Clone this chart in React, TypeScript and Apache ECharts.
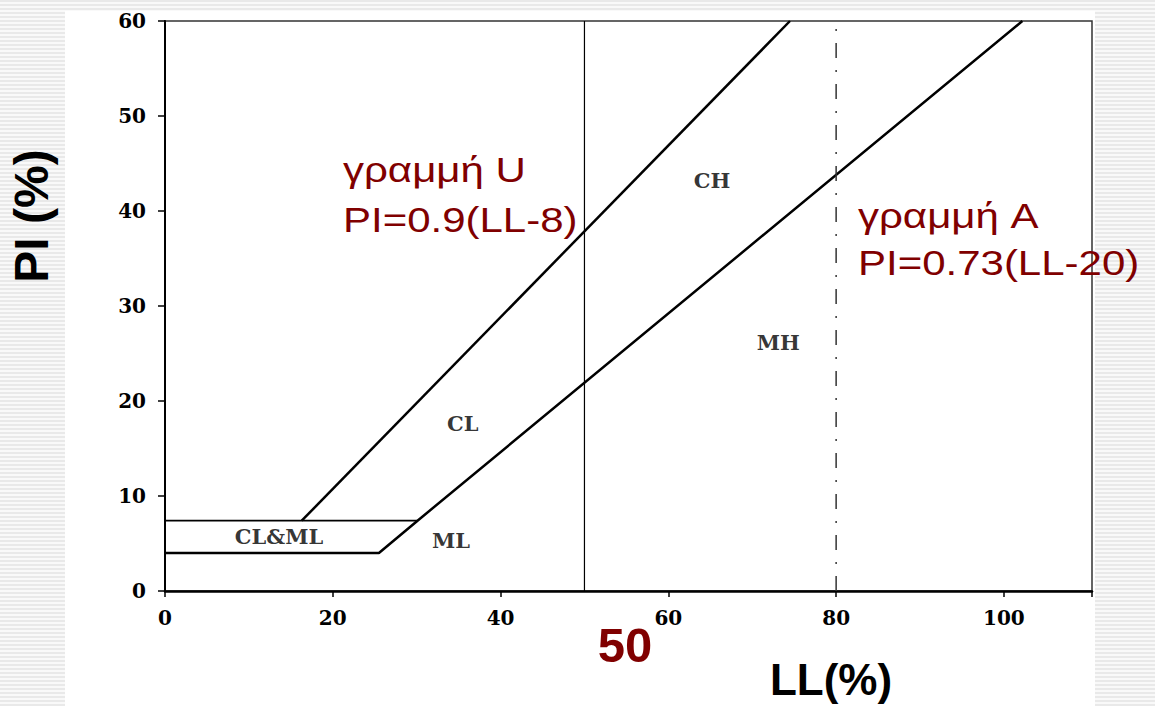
import React, { useEffect, useRef } from "react";
import * as echarts from "echarts";

// ---- data ----
const xTicks = [0, 20, 40, 60, 80, 100];
const yTicks = [0, 10, 20, 30, 40, 50, 60];
const uLine: number[][] = [[16.3, 7.4], [74.5, 60]];
const aLine: number[][] = [[0, 4], [25.5, 4], [30.1, 7.4], [102.2, 60]];
const clmlTop: number[][] = [[0, 7.4], [30.1, 7.4]];
const ll50: number[][] = [[50, 0], [50, 60]];
const ll80: number[][] = [[80, 0], [80, 60]];
const zoneNames = ["CH", "CL", "MH", "ML", "CL&ML"];
const zoneLL = [65.2, 35.5, 73.1, 34.1, 13.6];
const zonePI = [43.2, 17.6, 26.2, 5.3, 5.7];

const RED = "#800000";

export default function App() {
  const ref = useRef<HTMLDivElement>(null);

  useEffect(() => {
    document.body.style.margin = "0";
    if (!ref.current) return;
    const chart = echarts.init(ref.current, null, { renderer: "svg" });

    const lineStyleSeries = (name: string, data: number[][], width: number, color: string, type: any = "solid") => ({
      name,
      type: "line",
      data,
      symbol: "none",
      silent: true,
      lineStyle: { color, width, type },
      z: 3,
    });

    chart.setOption({
      animation: false,
      backgroundColor: "transparent",
      grid: {
        left: 165,
        right: 63,
        top: 21,
        bottom: 115,
        show: true,
        borderColor: "#333",
        borderWidth: 1.5,
        backgroundColor: "transparent",
      },
      xAxis: {
        type: "value",
        min: 0,
        max: 110.5,
        interval: 20,
        splitLine: { show: false },
        axisLine: { show: true, lineStyle: { color: "#000", width: 2.5 } },
        axisTick: { show: true, inside: false, length: 6, lineStyle: { color: "#000", width: 1.5 } },
        axisLabel: {
          margin: 17,
          fontFamily: "DejaVu Serif",
          fontWeight: "bold",
          fontSize: 20,
          color: "#000",
          formatter: (v: number) => (xTicks.includes(v) ? String(v) : ""),
        },
      },
      yAxis: {
        type: "value",
        min: 0,
        max: 60,
        interval: 10,
        splitLine: { show: false },
        axisLine: { show: true, lineStyle: { color: "#000", width: 2 } },
        axisTick: { show: true, inside: false, length: 7, lineStyle: { color: "#000", width: 1.5 } },
        axisLabel: {
          margin: 19,
          fontFamily: "DejaVu Serif",
          fontWeight: "bold",
          fontSize: 20,
          color: "#000",
          formatter: (v: number) => (yTicks.includes(v) ? String(v) : ""),
        },
      },
      series: [
        lineStyleSeries("U", uLine, 2.5, "#000"),
        lineStyleSeries("A", aLine, 2.5, "#000"),
        lineStyleSeries("CLML", clmlTop, 1.8, "#000"),
        lineStyleSeries("LL50", ll50, 1.2, "#000"),
        lineStyleSeries("LL80", ll80, 1.5, "#333", [15, 12, 2, 12]),
        {
          name: "zones",
          type: "scatter",
          silent: true,
          symbolSize: 1,
          itemStyle: { color: "rgba(0,0,0,0)" },
          data: zoneNames.map((n, i) => ({ name: n, value: [zoneLL[i], zonePI[i]] })),
          label: {
            show: true,
            position: "inside",
            formatter: (p: any) => p.name,
            fontFamily: "DejaVu Serif",
            fontWeight: "bold",
            fontSize: 21,
            color: "#000",
          },
          z: 4,
        },
      ],
      graphic: [
        {
          type: "text",
          x: 343,
          y: 170,
          scaleX: 1.2,
          style: { text: "γραμμή U", fill: RED, fontFamily: "Liberation Sans", fontSize: 35, align: "left", verticalAlign: "middle" },
        },
        {
          type: "text",
          x: 343,
          y: 220,
          scaleX: 1.2,
          style: { text: "PI=0.9(LL-8)", fill: RED, fontFamily: "Liberation Sans", fontSize: 35, align: "left", verticalAlign: "middle" },
        },
        {
          type: "text",
          x: 858,
          y: 216,
          scaleX: 1.2,
          style: { text: "γραμμή A", fill: RED, fontFamily: "Liberation Sans", fontSize: 35, align: "left", verticalAlign: "middle" },
        },
        {
          type: "text",
          x: 858,
          y: 263,
          scaleX: 1.2,
          style: { text: "PI=0.73(LL-20)", fill: RED, fontFamily: "Liberation Sans", fontSize: 35, align: "left", verticalAlign: "middle" },
        },
        {
          type: "text",
          x: 625,
          y: 645,
          style: { text: "50", fill: RED, fontFamily: "Liberation Sans", fontWeight: "bold", fontSize: 49, align: "center", verticalAlign: "middle" },
        },
        {
          type: "text",
          x: 831,
          y: 679,
          style: { text: "LL(%)", fill: "#000", fontFamily: "Liberation Sans", fontWeight: "bold", fontSize: 44, align: "center", verticalAlign: "middle" },
        },
        {
          type: "text",
          x: 31,
          y: 216,
          rotation: Math.PI / 2,
          style: { text: "PI (%)", fill: "#000", fontFamily: "Liberation Sans", fontWeight: "bold", fontSize: 48, align: "center", verticalAlign: "middle" },
        },
      ],
    });

    return () => chart.dispose();
  }, []);

  const stripes = "repeating-linear-gradient(180deg, #e9e9e9 0px, #e9e9e9 2px, #f9f9f9 2px, #f9f9f9 4px)";

  return (
    <div style={{ position: "relative", width: 1155, height: 706, background: stripes, overflow: "hidden" }}>
      <div style={{ position: "absolute", left: 65, top: 11, width: 1030, height: 695, background: "#fff" }} />
      <div ref={ref} style={{ position: "absolute", left: 0, top: 0, width: 1155, height: 706 }} />
    </div>
  );
}
